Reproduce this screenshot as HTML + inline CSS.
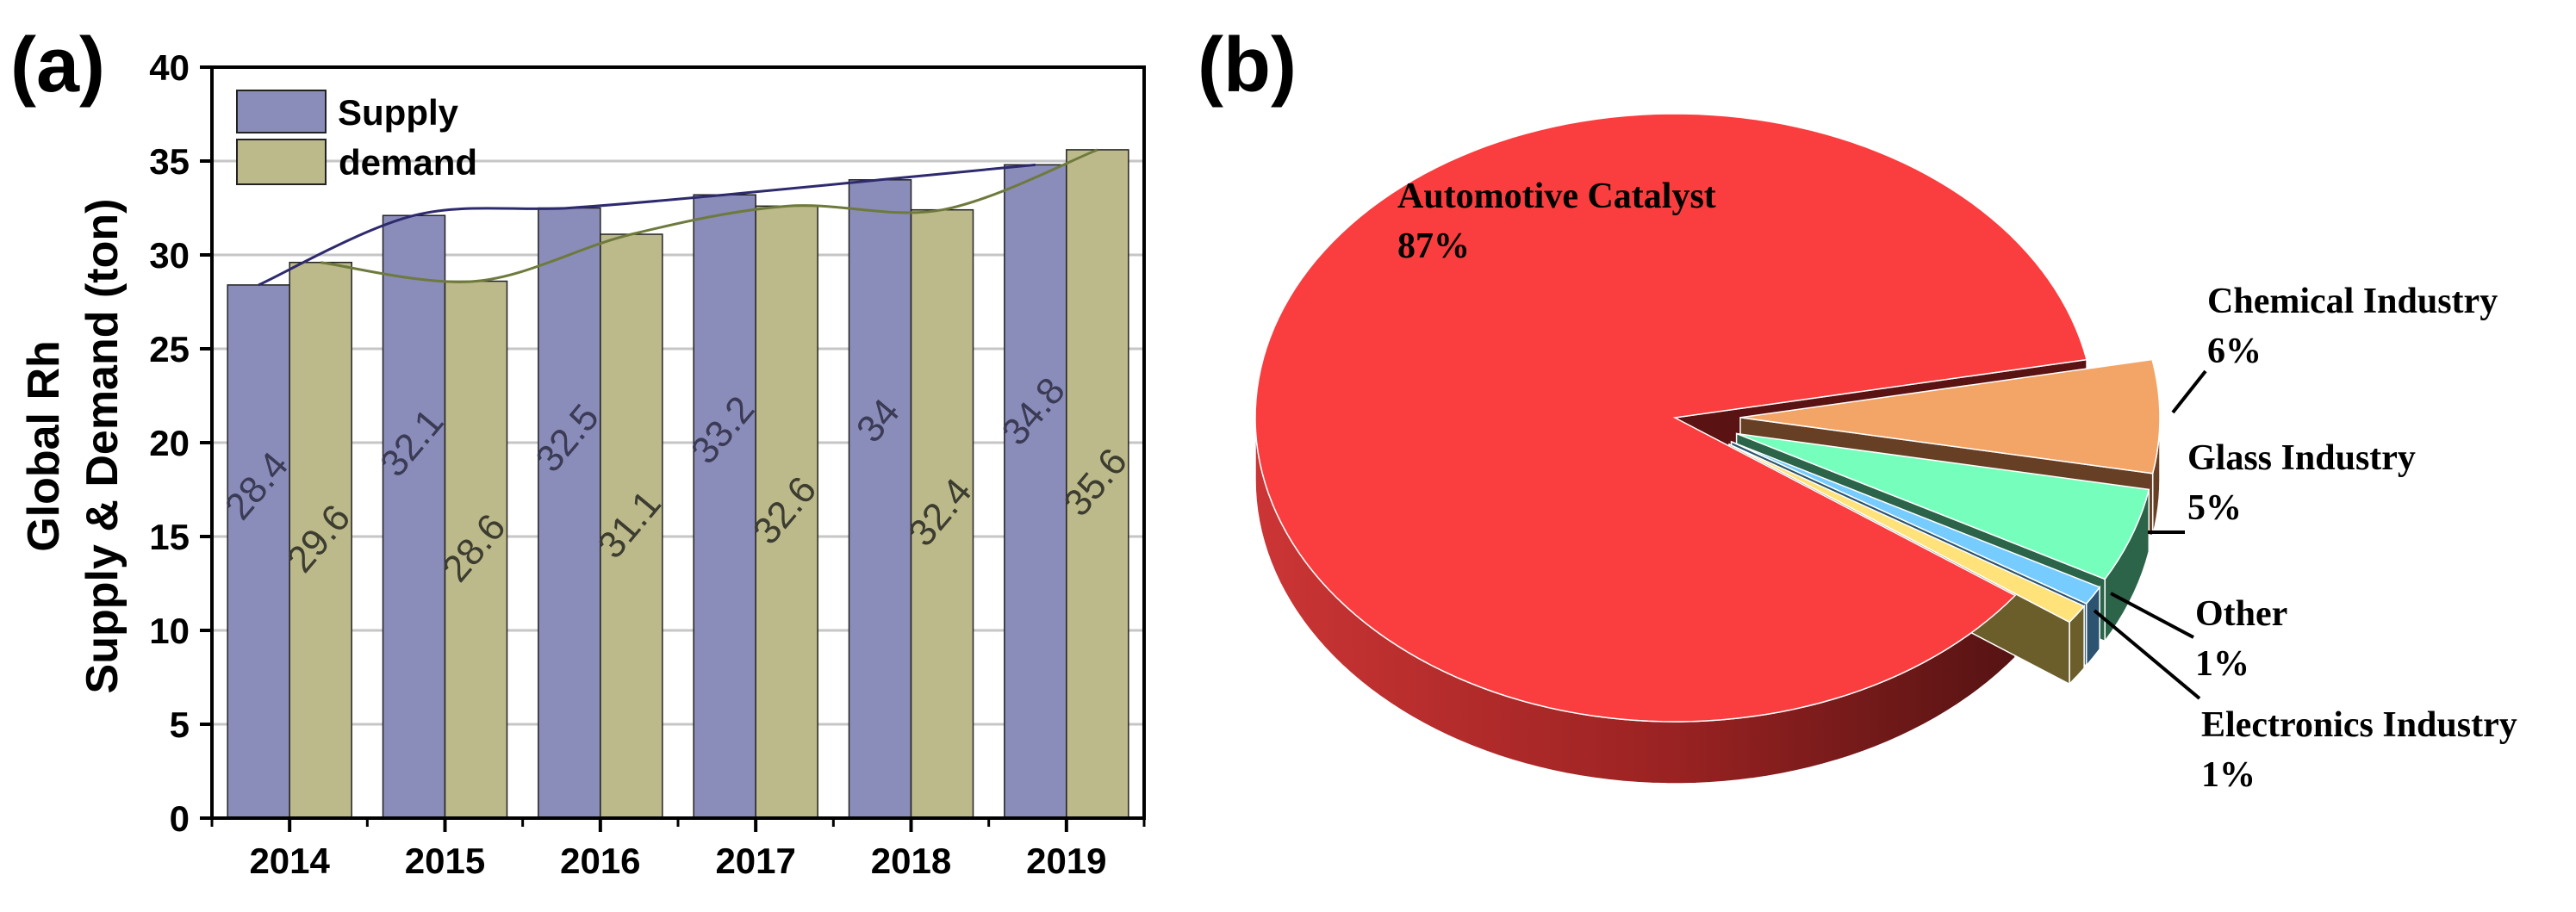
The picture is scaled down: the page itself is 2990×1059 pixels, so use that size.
<!DOCTYPE html>
<html><head><meta charset="utf-8"><style>
html,body{margin:0;padding:0;background:#fff;}
svg{display:block;}
</style></head><body>
<svg id="svg" width="2990" height="1059" viewBox="0 0 2990 1059" xmlns="http://www.w3.org/2000/svg">
<defs>
<linearGradient id="redSide" x1="0" y1="0" x2="1" y2="0" gradientUnits="objectBoundingBox">
<stop offset="0" stop-color="#cc3535"/><stop offset="0.55" stop-color="#9a2222"/><stop offset="1" stop-color="#561313"/>
</linearGradient>
</defs>
<g id="chartA"></g>
<g id="chartB"></g>
</svg>
<script>
// ---------- Panel (a) data ----------
const years = ["2014","2015","2016","2017","2018","2019"];
const supply = [28.4, 32.1, 32.5, 33.2, 34, 34.8];
const demand = [29.6, 28.6, 31.1, 32.6, 32.4, 35.6];
const yTicks = [0,5,10,15,20,25,30,35,40];
// ---------- Panel (b) data ----------
const sectors = ["Automotive Catalyst","Chemical Industry","Glass Industry","Other","Electronics Industry"];
const shares = [87, 6, 5, 1, 1];
const shareLabels = ["87%","6%","5%","1%","1%"];

const NS = "http://www.w3.org/2000/svg";
function mk(tag, attrs, parent){
  const e = document.createElementNS(NS, tag);
  for (const k in attrs) e.setAttribute(k, attrs[k]);
  parent.appendChild(e);
  return e;
}

// ---------- Panel (a) ----------
const A = document.getElementById('chartA');
const X0 = 246, X1 = 1328, Y0 = 950, Y1 = 78;
const band = (X1 - X0) / years.length;
const yS = v => Y0 - (v / 40) * (Y0 - Y1);
const cx = i => X0 + band * (i + 0.5);
const BW = 72;

yTicks.forEach(t => {
  if (t === 0 || t === 40) return;
  const g = mk('line', {x1:X0, x2:X1, y1:yS(t), y2:yS(t), stroke:'#c6c6c6', 'stroke-width':3}, A);
  
  
});

years.forEach((yr, i) => {
  const s = mk('rect', {x:cx(i)-BW, y:yS(supply[i]), width:BW, height:Y0-yS(supply[i]), fill:'#8a8cba', stroke:'#222', 'stroke-width':1.5}, A);
  
  
  const d = mk('rect', {x:cx(i), y:yS(demand[i]), width:BW, height:Y0-yS(demand[i]), fill:'#bcb98a', stroke:'#222', 'stroke-width':1.5}, A);
  
  
});

years.forEach((yr, i) => {
  const sx = cx(i) - BW/2, sy = yS(supply[i]*0.62);
  const t1 = mk('text', {x:sx, y:sy, transform:`rotate(-50 ${sx} ${sy})`, 'text-anchor':'middle', 'dominant-baseline':'middle', 'font-family':'Liberation Sans, sans-serif', 'font-size':44, fill:'#3b3b55'}, A);
  t1.textContent = String(supply[i]);
  
  
  const dx = cx(i) + BW/2, dy = yS(demand[i]*0.5);
  const t2 = mk('text', {x:dx, y:dy, transform:`rotate(-50 ${dx} ${dy})`, 'text-anchor':'middle', 'dominant-baseline':'middle', 'font-family':'Liberation Sans, sans-serif', 'font-size':44, fill:'#3c3c30'}, A);
  t2.textContent = String(demand[i]);
  
  
});

function spline(pts){
  let d = `M${pts[0][0]},${pts[0][1]}`;
  for (let i = 0; i < pts.length - 1; i++){
    const p0 = pts[i-1] || pts[i], p1 = pts[i], p2 = pts[i+1], p3 = pts[i+2] || pts[i+1];
    const c1 = [p1[0] + (p2[0]-p0[0])/6, p1[1] + (p2[1]-p0[1])/6];
    const c2 = [p2[0] - (p3[0]-p1[0])/6, p2[1] - (p3[1]-p1[1])/6];
    d += ` C${c1[0]},${c1[1]} ${c2[0]},${c2[1]} ${p2[0]},${p2[1]}`;
  }
  return d;
}
const sl = mk('path', {d:spline(supply.map((v,i)=>[cx(i)-BW/2, yS(v)])), fill:'none', stroke:'#2e2a6e', 'stroke-width':3}, A);


const dl = mk('path', {d:spline(demand.map((v,i)=>[cx(i)+BW/2, yS(v)])), fill:'none', stroke:'#6e7a3c', 'stroke-width':3}, A);



const fr = mk('rect', {x:X0, y:Y1, width:X1-X0, height:Y0-Y1, fill:'none', stroke:'#000', 'stroke-width':4}, A);



yTicks.forEach(t => {
  const l = mk('line', {x1:X0-14, x2:X0, y1:yS(t), y2:yS(t), stroke:'#000', 'stroke-width':4}, A);
  
  
  const tx = mk('text', {x:X0-26, y:yS(t)+15, 'text-anchor':'end', 'font-family':'Liberation Sans, sans-serif', 'font-size':42, 'font-weight':'bold', fill:'#000'}, A);
  tx.textContent = t;
  
  
});
for (let i = 0; i <= years.length; i++){
  const m = mk('line', {x1:X0+band*i, x2:X0+band*i, y1:Y0, y2:Y0+10, stroke:'#000', 'stroke-width':3}, A);
  
  
}
years.forEach((yr, i) => {
  const l = mk('line', {x1:cx(i), x2:cx(i), y1:Y0, y2:Y0+16, stroke:'#000', 'stroke-width':4}, A);
  
  
  const tx = mk('text', {x:cx(i), y:1014, 'text-anchor':'middle', 'font-family':'Liberation Sans, sans-serif', 'font-size':42, 'font-weight':'bold', fill:'#000'}, A);
  tx.textContent = yr;
  
  
});

const yt = mk('text', {transform:'translate(68,518) rotate(-90)', 'text-anchor':'middle', 'font-family':'Liberation Sans, sans-serif', 'font-size':52, 'font-weight':'bold', fill:'#000'}, A);


const ts1 = mk('tspan', {x:0, dy:0}, yt); ts1.textContent = 'Global Rh';
const ts2 = mk('tspan', {x:0, dy:68}, yt); ts2.textContent = 'Supply & Demand (ton)';

const lg = mk('g', {}, A);


const lb1 = mk('rect', {x:275, y:105, width:103, height:49, fill:'#8a8cba', stroke:'#222', 'stroke-width':2}, lg);


const lt1 = mk('text', {x:392, y:145, 'font-family':'Liberation Sans, sans-serif', 'font-size':42, 'font-weight':'bold', fill:'#000'}, lg);
lt1.textContent = 'Supply';


const lb2 = mk('rect', {x:275, y:162, width:103, height:52, fill:'#bcb98a', stroke:'#222', 'stroke-width':2}, lg);


const lt2 = mk('text', {x:393, y:203, 'font-family':'Liberation Sans, sans-serif', 'font-size':42, 'font-weight':'bold', fill:'#000'}, lg);
lt2.textContent = 'demand';



const pa = mk('text', {x:12, y:106, 'font-family':'Liberation Sans, sans-serif', 'font-size':90, 'font-weight':'bold', fill:'#000'}, A);
pa.textContent = '(a)';



// ---------- Panel (b) ----------
const B = document.getElementById('chartB');
const PCX = 1944, PCY = 485, RX = 487, RY = 353, H = 72, EXPL = 76;
const topCol = ['#fa3d3e','#f2a566','#76ffbc','#76ccff','#ffe27a'];
const sideCol = ['url(#redSide)','#673f24','#2b6448','#2c5470','#6b5e2b'];
const faceCol = ['#5a1212','#673f24','#2b6448','#2c5470','#6b5e2b'];
const rad = d => d * Math.PI / 180;
const total = shares.reduce((a,b)=>a+b,0);
const order = [1,2,3,4,0];
let ang = -11;
const spans = {};
order.forEach(k => { const sw = shares[k]/total*360; spans[k] = [ang, ang+sw]; ang += sw; });

function P(c, t, dy){ return [c[0] + RX*Math.cos(rad(t)), c[1] + RY*Math.sin(rad(t)) + (dy||0)]; }
function arcPts(c, a, b, dy){
  const pts = []; const n = Math.max(2, Math.ceil(Math.abs(b-a)/2));
  for (let i = 0; i <= n; i++) pts.push(P(c, a + (b-a)*i/n, dy));
  return pts;
}
const groups = {}, centers = {};
[0,1,2,3,4].forEach(k => {
  const [t1, t2] = spans[k];
  let c = [PCX, PCY];
  if (k !== 0){
    const m = (t1+t2)/2;
    c = [PCX + EXPL*Math.cos(rad(m)), PCY + EXPL*Math.sin(rad(m))*RY/RX];
  }
  centers[k] = c;
});
[0,1,2,3,4].forEach(k => {
  const g = mk('g', {}, B);
  
  
  groups[k] = g;
});
const redTop = mk('g', {}, B);


const topLayer = mk('g', {}, B);



function drawSideAndFace(k){
  const [t1, t2] = spans[k], c = centers[k], g = groups[k];
  [[0,180],[360,540]].forEach(([lo,hi]) => {
    const a = Math.max(t1, lo), b = Math.min(t2, hi);
    if (b > a){
      const top = arcPts(c, a, b, 0), bot = arcPts(c, b, a, H);
      const d = 'M' + top.concat(bot).map(p=>p.join(',')).join(' L') + ' Z';
      const s = mk('path', {d, fill:sideCol[k], stroke:'#fff', 'stroke-width':1.5}, g);
      
      
    }
  });
  const e = P(c, t2, 0);
  const fd = `M${c[0]},${c[1]} L${e[0]},${e[1]} L${e[0]},${e[1]+H} L${c[0]},${c[1]+H} Z`;
  const f = mk('path', {d:fd, fill:faceCol[k], stroke:'#fff', 'stroke-width':1.5}, g);
  
  
}
function drawTop(k, parent){
  const [t1, t2] = spans[k], c = centers[k];
  const tp = arcPts(c, t1, t2, 0);
  const td = `M${c[0]},${c[1]} L` + tp.map(p=>p.join(',')).join(' L') + ' Z';
  const tt = mk('path', {d:td, fill:topCol[k], stroke:'#fff', 'stroke-width':1.5}, parent);
  
  
}
[0,1,2,3,4].forEach(k => drawSideAndFace(k));
drawTop(0, redTop);
[1,2,3,4].forEach(k => drawTop(k, topLayer));

const labelPos = [[1622,241],[2562,363],[2539,545],[2548,726],[2555,855]];
sectors.forEach((s, k) => {
  const t = mk('text', {x:labelPos[k][0], y:labelPos[k][1], 'font-family':'Liberation Serif, serif', 'font-size':42, 'font-weight':'bold', fill:'#000'}, B);
  
  
  const a = mk('tspan', {x:labelPos[k][0]}, t); a.textContent = s;
  const b = mk('tspan', {x:labelPos[k][0], dy:58}, t); b.textContent = shareLabels[k];
});
const leaders = [[2560,431,2522,479],[2493,618,2536,618],[2450,689,2546,740],[2431,709,2553,811]];
leaders.forEach(l => {
  const ln = mk('line', {x1:l[0], y1:l[1], x2:l[2], y2:l[3], stroke:'#000', 'stroke-width':4}, B);
  
  
});
const pb = mk('text', {x:1390, y:106, 'font-family':'Liberation Sans, sans-serif', 'font-size':90, 'font-weight':'bold', fill:'#000'}, B);
pb.textContent = '(b)';


</script>
</body></html>
